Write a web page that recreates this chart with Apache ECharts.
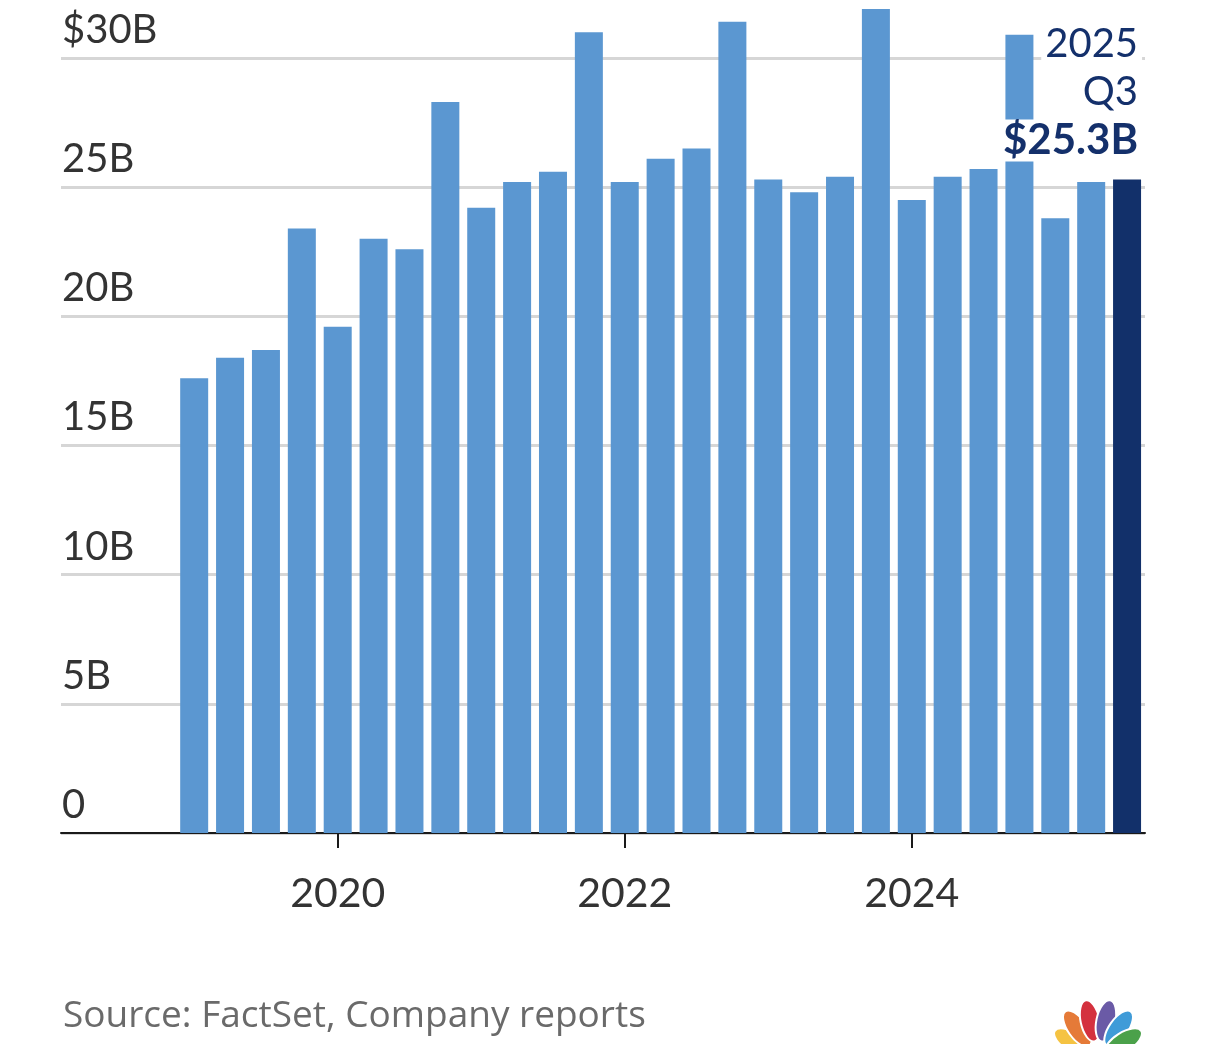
<!DOCTYPE html>
<html>
<head>
<meta charset="utf-8">
<script src="https://cdn.jsdelivr.net/npm/echarts@6/dist/echarts.min.js"></script>
<style>
html,body{margin:0;padding:0;background:#fff;}
#chart{width:1206px;height:1044px;}
</style>
</head>
<body>
<div id="chart"></div>
<script>
// ---- data ----
const quarters = ['2019 Q1','2019 Q2','2019 Q3','2019 Q4',
                  '2020 Q1','2020 Q2','2020 Q3','2020 Q4',
                  '2021 Q1','2021 Q2','2021 Q3','2021 Q4',
                  '2022 Q1','2022 Q2','2022 Q3','2022 Q4',
                  '2023 Q1','2023 Q2','2023 Q3','2023 Q4',
                  '2024 Q1','2024 Q2','2024 Q3','2024 Q4',
                  '2025 Q1','2025 Q2','2025 Q3'];
const revenue = [17.6, 18.4, 18.7, 23.4,
                 19.6, 23.0, 22.6, 28.3,
                 24.2, 25.2, 25.6, 31.0,
                 25.2, 26.1, 26.5, 31.4,
                 25.3, 24.8, 25.4, 31.9,
                 24.5, 25.4, 25.7, 30.9,
                 23.8, 25.2, 25.3];
const yTicks = [0, 5, 10, 15, 20, 25, 30];
const xTickYears = [2020, 2022, 2024];
const sourceText = 'Source: FactSet, Company reports';

// ---- style ----
const FONT = 'Lato, "Open Sans", sans-serif';
const SRC_FONT = '"Open Sans", Lato, sans-serif';
const LIGHT = '#5b97d1';
const NAVY = '#12306a';

function qPos(label) {
  const parts = label.split(' Q');
  return Number(parts[0]) + (Number(parts[1]) - 1) / 4;
}

const last = quarters.length - 1;
const lastParts = quarters[last].split(' ');
const seriesData = revenue.map(function (v, i) {
  const item = { value: [qPos(quarters[i]), v] };
  if (i === last) {
    item.itemStyle = { color: NAVY };
    item.label = {
      show: true,
      position: 'top',
      distance: 15,
      align: 'right',
      offset: [15, 0],
      formatter: '{a|' + lastParts[0] + '}\n{a|' + lastParts[1] + '}\n{b|$' + v.toFixed(1) + 'B}',
      rich: {
        a: { fontFamily: FONT, fontSize: 40, color: '#14306b', backgroundColor: '#fff',
             padding: [0, 4], lineHeight: 48, align: 'right' },
        b: { fontFamily: FONT, fontSize: 42, fontWeight: 'bold', color: '#14306b',
             backgroundColor: '#fff', padding: [0, 4], lineHeight: 48, align: 'right' }
      }
    };
  }
  return item;
});

// NBC-like peacock decoration
const petalColors = ['#f5c342', '#e57a38', '#d4313e', '#6a5aa6', '#3f9bd8', '#4ba14a'];
const petalAngles = [-58, -35, -12, 12, 35, 58];
const petalDist = [30, 36, 38, 38, 36, 30];
const peacock = petalColors.map(function (c, k) {
  const a = petalAngles[k] * Math.PI / 180;
  const cx = 1098, cy = 1058, d = petalDist[k];
  return {
    type: 'ellipse',
    x: cx + d * Math.sin(a),
    y: cy - d * Math.cos(a),
    rotation: -a,
    shape: { cx: 0, cy: 0, rx: 9.5, ry: 21 },
    style: { fill: c, stroke: '#fff', lineWidth: 2 },
    silent: true
  };
});

const chart = echarts.init(document.getElementById('chart'), null, { renderer: 'canvas' });
chart.setOption({
  animation: false,
  backgroundColor: '#fff',
  title: {
    text: sourceText,
    left: 58, top: 993,
    textStyle: { fontFamily: SRC_FONT, fontSize: 37, fontWeight: 'normal', color: '#6a6a6a' }
  },
  grid: { left: 61, right: 61, top: 58, bottom: 211, containLabel: false },
  xAxis: {
    type: 'value',
    min: 2018.072,
    max: 2025.625,
    splitLine: { show: false },
    axisLine: { show: true, lineStyle: { color: '#1a1a1a', width: 2 } },
    axisTick: { show: true, customValues: xTickYears, length: 15, lineStyle: { color: '#1a1a1a', width: 2 } },
    axisLabel: {
      show: true, customValues: xTickYears, margin: 40,
      fontFamily: FONT, fontSize: 41, color: '#333',
      formatter: function (v) { return String(Math.round(v)); }
    }
  },
  yAxis: {
    type: 'value',
    min: yTicks[0], max: yTicks[yTicks.length - 1], interval: 5,
    axisLine: { show: false },
    axisTick: { show: false },
    splitLine: { show: true, lineStyle: { color: '#d6d6d6', width: 3 } },
    axisLabel: {
      inside: true, margin: 1, align: 'left', verticalAlign: 'bottom',
      padding: [0, 0, 8, 0],
      fontFamily: FONT, fontSize: 40, color: '#333',
      formatter: function (v) {
        if (v === 0) return '0';
        if (v === yTicks[yTicks.length - 1]) return '$' + v + 'B';
        return v + 'B';
      }
    }
  },
  series: [{
    type: 'bar',
    data: seriesData,
    barWidth: 28,
    clip: false,
    itemStyle: { color: LIGHT },
    z: 3
  }],
  graphic: peacock
});
</script>
</body>
</html>
